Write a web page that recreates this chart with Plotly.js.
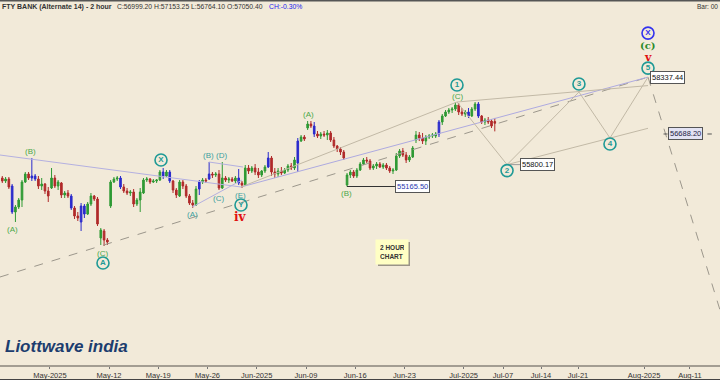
<!DOCTYPE html>
<html><head><meta charset="utf-8">
<script src="https://cdn.plot.ly/plotly-3.0.1.min.js"></script>
<style>html,body{margin:0;padding:0;background:#f2ead9}#chart{width:720px;height:380px}</style>
</head><body><div id="chart"></div>
<script>
// ================= DATA =================
// x unit = trading-day index (0 = 2 May 2025); 3 two-hour bars per day
const firstDay = -5;
const barsPerDay = 3;
const open = [
55412,55325,55383, 55180,54426,54571, 54774,55296,55528, 55412,55470,55383, 55180,55238,55035,
55122,55412,55180, 55267,54919,54977, 54890,54542,54310, 54136,54600,54368, 54658,54890,54803,
53672,53875,53614, 54600,55296,55383, 55412,55151,55035, 54977,55006,54658, 54774,54977,55354,
55383,55296,55325, 55354,55586,55470, 55586,55325,55064, 54890,55296,55180, 54890,54687,54629,
55093,55296,55354, 55383,55528,55499, 55528,55122,55412, 55354,55383,55325, 55412,55267,55209,
55702,55615,55702, 55586,55499,55615, 55731,55992,55586, 55528,55615,55557, 55644,55760,55702,
55847,56485,56601, 56862,56978,56920, 56688,56630,56688, 56659,56717,56514, 56340,56253,56166,
55209,55499,55586, 55470,55644,55818, 55934,55905,55702, 55760,55818,55731, 55789,55702,55615,
55644,56050,56195, 56079,55934,56021, 56514,56659,56572, 56485,56601,56630, 56630,56688,57036,
57210,57326,57384, 57413,57529,57326, 57268,57326,57210, 57413,57558,57210, 57036,57094,57065,
57050.40];
const high = [
55470,55441,55441, 55238,54629,54832, 55354,55586,55586, 55992,55528,55470, 55412,55267,55151,
55702,55499,55354, 55296,55035,55064, 54948,54600,54426, 54687,54658,54716, 54977,54919,54861,
53962,53933,53672, 55354,55441,55470, 55470,55238,55122, 55064,55093,54832, 55122,55412,55441,
55412,55383,55383, 55644,55702,55644, 55644,55354,55122, 55354,55354,55238, 54948,54774,55180,
55354,55412,55412, 55876,55586,55586, 55644,55876,55470, 55441,55441,55470, 55673,55325,55789,
55789,55760,55818, 55702,55644,55789, 56166,56050,55702, 55702,55731,55702, 55818,55847,56021,
56572,56659,56659, 57065,57065,57036, 56775,56746,56775, 56804,56775,56601, 56369,56311,56224,
55557,55644,55644, 55702,55876,55992, 56021,55963,55818, 55876,55876,55847, 55847,55760,55702,
56137,56253,56282, 56166,56079,56340, 56775,56746,56717, 56659,56688,56717, 56746,57094,57268,
57384,57442,57471, 57616,57587,57442, 57384,57442,57471, 57616,57616,57239, 57152,57181,57123,
57153.25];
const low = [
55267,55267,55093, 54368,54136,54513, 54571,55267,55354, 55325,55325,55093, 55064,54948,54716,
55093,55122,55064, 54832,54832,54832, 54484,54223,54165, 53875,54252,54339, 54600,54745,54020,
53469,53440,53469, 54542,55267,55325, 55093,54977,54919, 54890,54571,54600, 54426,54948,55296,
55238,55267,55267, 55325,55383,55441, 55267,54977,54832, 54861,55093,54832, 54629,54542,54600,
54919,55238,55267, 55354,55412,55441, 55064,55093,55296, 55267,55296,55267, 55209,55122,55180,
55528,55557,55499, 55412,55441,55557, 55702,55470,55412, 55441,55499,55528, 55586,55644,55644,
55586,56456,56485, 56804,56862,56601, 56572,56543,56601, 56514,56456,56282, 56166,56079,55934,
55165.5,55412,55412, 55412,55615,55789, 55847,55644,55644, 55673,55702,55673, 55644,55557,55528,
55615,55992,56021, 55847,55876,55992, 56427,56485,56398, 56369,56543,56572, 56572,56601,56949,
57181,57268,57297, 57355,57239,57210, 57181,57152,57181, 57355,57152,56978, 56949,56978,56862,
56764.10];
const close = [
55325,55383,55151, 54426,54571,54774, 55296,55528,55412, 55470,55383,55180, 55238,55035,54890,
55412,55180,55296, 54919,54977,54890, 54542,54310,54252, 54600,54368,54658, 54890,54803,54078,
53904,53614,53556, 55296,55383,55412, 55151,55035,54977, 55006,54658,54774, 55006,55354,55383,
55296,55325,55354, 55586,55470,55586, 55325,55064,54919, 55296,55180,54890, 54687,54629,55093,
55296,55354,55325, 55528,55499,55528, 55122,55412,55354, 55383,55325,55412, 55267,55209,55702,
55615,55702,55586, 55499,55615,55731, 55992,55586,55528, 55615,55557,55644, 55760,55702,55934,
56485,56601,56543, 56978,56920,56688, 56630,56688,56659, 56717,56514,56340, 56253,56166,55992,
55499,55586,55470, 55644,55818,55934, 55905,55702,55760, 55818,55731,55789, 55702,55615,55644,
56050,56195,56079, 55934,56021,56282, 56659,56572,56485, 56601,56630,56659, 56688,57036,57210,
57326,57384,57413, 57529,57326,57268, 57326,57210,57413, 57558,57210,57036, 57094,57036,56920,
56999.20];
const changePct = '-0.30%';

const tickDays   = [0, 6, 11, 16, 21, 26, 31, 36, 42, 46, 49.86, 53.62, 60.32, 64.98];
const tickLabels = ['May-2025','May-12','May-19','May-26','Jun-2025','Jun-09','Jun-16','Jun-23','Jul-2025','Jul-07','Jul-14','Jul-21','Aug-2025','Aug-11'];

// wave labels at pivots
const waveLabelText = ['(A)','(B)','(C)','(A)','(B)','(C)','(D)','(E)','(A)','(B)','(C)'];
const waveLabelX    = [-3.8, -2.02, 5.39, 14.44, 16.15, 17.07, 17.37, 19.4, 26.3, 30.16, 41.33];
const waveLabelP    = [54136, 55992, 53440, 54571, 55876, 55064, 55876, 55122, 57065, 55165.5, 57616];

// circled degree labels
const circleText = ['A','X','Y','1','2','3','4','5','X'];
const circleX    = [5.39, 11.28, 19.4, 41.33, 46.41, 53.71, 56.86, 60.72, 60.72];
const circleP    = [53440, 55702, 55122, 57616, 55800.17, 57906, 56572, 58337.44, 58337.44];

// projected path 1-2-3-4-5
const projX = [41.33, 46.41, 53.71, 56.86, 60.72];
const projP = [57616, 55800.17, 57906, 56572, 58337.44];

// trend lines
const dashUpX = [-5.07, 60.72],  dashUpP = [52541, 58337.44];
const dashDnX = [60.72, 68.03],  dashDnP = [58337.44, 51584];
const descX   = [-5.07, 19.4],   descP   = [56079, 55151];
const triBDX  = [16.15, 19.6],   triBDP  = [55876, 55731];
const triACX  = [14.44, 19.5],   triACP  = [54571, 55354];
const lavUpX  = [19.4, 60.72],   lavUpP  = [55151, 58337.44];
const greyE1X = [19.4, 41.33],   greyE1P = [55151, 57616];
const line13X = [41.33, 60.72],  line13P = [57616, 58092];
const line24X = [46.41, 60.72],  line24P = [55800.17, 56853];

// price level boxes
const levelText = ['55165.50','55800.17','58337.44','56688.20'];
const levelP    = [55165.50, 55800.17, 58337.44, 56688.20];
const levelFrom = [30.16, 46.41, 60.72, 62.3];
const levelBoxX = [35.03, 47.73, 60.93, 62.7];

// ================= STYLE / BUILD =================
const BG = '#f2ead9';
const plotTop = 12, plotBottom = 365;
const plotH = plotBottom - plotTop;
const yRange = [49989, 60226];
const xRange = [-5.066, 68.03];
const ppx = (yRange[1]-yRange[0])/plotH;
const n = close.length;
const xs = close.map((_, i) => firstDay + Math.floor(i / barsPerDay) + ((i % barsPerDay) + 0.5) / barsPerDay);
const blueBars = new Set([3,9,10,21,24,25,36,49,51,60,63,72,81,90,95,133,142,145]);

function pick(arr, keep) { return arr.filter((_, i) => keep(i)); }
const isBlue = i => blueBars.has(i);
const notBlue = i => !blueBars.has(i);

const traces = [];
function ln(x, y, color, dash, width) {
  traces.push({type:'scatter', mode:'lines', x:x, y:y, hoverinfo:'skip',
    line:{color:color, width:width||1, dash:dash||'solid'}});
}
ln(dashUpX, dashUpP, '#9c978c', 'dash', 1);
ln(dashDnX, dashDnP, '#9c978c', 'dash', 1);
ln(descX, descP, '#b4b0e0');
ln(triBDX, triBDP, '#b4b0e0');
ln(triACX, triACP, '#b4b0e0');
ln(lavUpX, lavUpP, '#aeaae0');
ln(greyE1X, greyE1P, '#c2b9a6');
ln(line13X, line13P, '#c2b9a6');
ln(line24X, line24P, '#c2b9a6');
ln(projX, projP, '#c2b9a6');
// level connectors
ln([levelFrom[0], levelBoxX[0]], [levelP[0], levelP[0]], '#333333');
ln([levelFrom[1], levelBoxX[1]], [levelP[1], levelP[1]], '#9a9a9a');
ln([levelFrom[3], levelBoxX[3]], [levelP[3], levelP[3]], '#555555');
ln([66.75, 67.2], [levelP[3], levelP[3]], '#555555');
ln([63.9, 64.3], [levelP[2], levelP[2]], '#555555');

traces.push({type:'candlestick', x:pick(xs,notBlue), open:pick(open,notBlue), high:pick(high,notBlue),
  low:pick(low,notBlue), close:pick(close,notBlue), hoverinfo:'skip', whiskerwidth:0,
  increasing:{line:{color:'#2f9a34', width:1}, fillcolor:'#2f9a34'},
  decreasing:{line:{color:'#b02a2a', width:1}, fillcolor:'#b02a2a'}});
traces.push({type:'candlestick', x:pick(xs,isBlue), open:pick(open,isBlue), high:pick(high,isBlue),
  low:pick(low,isBlue), close:pick(close,isBlue), hoverinfo:'skip', whiskerwidth:0,
  increasing:{line:{color:'#2b2bcc', width:1}, fillcolor:'#2b2bcc'},
  decreasing:{line:{color:'#2b2bcc', width:1}, fillcolor:'#2b2bcc'}});

// circled labels
const circleShift = [-17, 8, -17, 17, -6, 8, -6, 9, 44];
const circleColor = ['#1f9a96','#1f9a96','#1f9a96','#1f9a96','#1f9a96','#1f9a96','#1f9a96','#1f9a96','#3333ee'];
traces.push({type:'scatter', mode:'markers+text', hoverinfo:'skip',
  x: circleX, y: circleP.map((p, i) => p + circleShift[i]*ppx),
  text: circleText, textposition:'middle center',
  textfont:{family:'Liberation Sans, Arial', size:8, color:circleColor, weight:'bold'},
  marker:{symbol:'circle-open', size:12, color:circleColor, line:{width:1.6, color:circleColor}}});

const G = '#4aa84a', T = '#3a9f9f';
const waveLabelShift = [-7, 7, -7, -7, 7, -8, 7, -7, 7, -7, 6];
const waveLabelColor = [G, G, G, T, T, T, T, T, G, G, G];
const ann = waveLabelText.map((t, i) => ({x: waveLabelX[i], y: waveLabelP[i], xref:'x', yref:'y',
  text:t, showarrow:false, yshift: waveLabelShift[i], xanchor:'center', yanchor:'middle',
  font:{family:'Liberation Sans, Arial', size:8, color: waveLabelColor[i]}}));

ann.push({x:circleX[2], y:circleP[2], text:'iv', showarrow:false, yshift:-29, xanchor:'center', yanchor:'middle',
  font:{family:'DejaVu Serif, Liberation Serif', size:12, color:'#e01010', weight:'bold'}});
ann.push({x:circleX[7], y:circleP[7], text:'v', showarrow:false, yshift:20, xanchor:'center', yanchor:'middle',
  font:{family:'DejaVu Serif, Liberation Serif', size:11, color:'#e01010', weight:'bold'}});
ann.push({x:circleX[7], y:circleP[7], text:'(c)', showarrow:false, yshift:32, xanchor:'center', yanchor:'middle',
  font:{family:'DejaVu Serif, Liberation Serif', size:10, color:'#2a8a2a', weight:'bold'}});

const levelFont = ['#2a3ab0','#111111','#111111','#222244'];
const levelBg = ['#ffffff','#ffffff','#ffffff','#e3e3f3'];
levelText.forEach((t, i) => ann.push({x:levelBoxX[i], y:levelP[i], text:t, showarrow:false,
  xanchor:'left', yanchor:'middle', bgcolor:levelBg[i], bordercolor:'#555555', borderwidth:1, borderpad:1,
  font:{family:'Liberation Sans, Arial', size:7.5, color:levelFont[i]}}));

// header
const toP = py => (plotBottom - py) / plotH;
ann.push({xref:'paper', yref:'paper', x:0, y:toP(6.5), xanchor:'left', yanchor:'middle', showarrow:false,
  text:'FTY BANK (Alternate 14) - 2 hour', font:{family:'Liberation Sans, Arial', size:7, color:'#333', weight:'bold'}});
ann.push({xref:'paper', yref:'paper', x:115/720, y:toP(6.5), xanchor:'left', yanchor:'middle', showarrow:false,
  text:'C:' + close[n-1].toFixed(2) + ' H:' + high[n-1].toFixed(2) + ' L:' + low[n-1].toFixed(2) + ' O:' + open[n-1].toFixed(2),
  font:{family:'Liberation Sans, Arial', size:6.8, color:'#333'}});
ann.push({xref:'paper', yref:'paper', x:267/720, y:toP(6.5), xanchor:'left', yanchor:'middle', showarrow:false,
  text:'CH:' + changePct, font:{family:'Liberation Sans, Arial', size:6.8, color:'#2222ee'}});
ann.push({xref:'paper', yref:'paper', x:1, y:toP(6.5), xanchor:'right', yanchor:'middle', showarrow:false,
  text:'Bar: 00', font:{family:'Liberation Sans, Arial', size:6.5, color:'#333'}});
// note box
ann.push({xref:'paper', yref:'paper', x:375/720, y:toP(239), xanchor:'left', yanchor:'top', showarrow:false,
  text:'2 HOUR<br>CHART', align:'left', bgcolor:'#ffffc4', borderpad:4, width:24, height:16,
  font:{family:'Liberation Sans, Arial', size:6.5, color:'#333', weight:'bold'}});
// logo
ann.push({xref:'paper', yref:'paper', x:3/720, y:toP(346), xanchor:'left', yanchor:'middle', showarrow:false,
  text:'Liottwave india', font:{family:'Liberation Sans, Arial', size:17, color:'#1c3d6e', weight:'bold', style:'italic'}});

const shapes = [
  {type:'rect', xref:'paper', yref:'paper', x0:0, x1:1, y0:toP(1.5), y1:toP(0), fillcolor:'#555', line:{width:0}},
  {type:'rect', xref:'paper', yref:'paper', x0:0, x1:1, y0:toP(380), y1:toP(379), fillcolor:'#444', line:{width:0}},
  {type:'rect', xref:'paper', yref:'paper', x0:378/720, x1:410/720, y0:toP(266), y1:toP(242), fillcolor:'#9a9488', line:{width:0}, layer:'below'}
];

const layout = {
  width:720, height:380, margin:{l:0, r:0, t:plotTop, b:380-plotBottom, pad:0},
  paper_bgcolor:BG, plot_bgcolor:BG, showlegend:false, hovermode:false,
  xaxis:{range:xRange, tickmode:'array', tickvals:tickDays, ticktext:tickLabels, showgrid:false, zeroline:false,
    showline:true, linecolor:'#a39d92', linewidth:2, ticks:'outside', ticklen:2, tickcolor:'#777',
    tickfont:{family:'Liberation Sans, Arial', size:7.5, color:'#333'}, rangeslider:{visible:false}, fixedrange:true},
  yaxis:{range:yRange, visible:false, fixedrange:true},
  annotations: ann, shapes: shapes
};
Plotly.newPlot('chart', traces, layout, {staticPlot:true, displayModeBar:false});
</script></body></html>
